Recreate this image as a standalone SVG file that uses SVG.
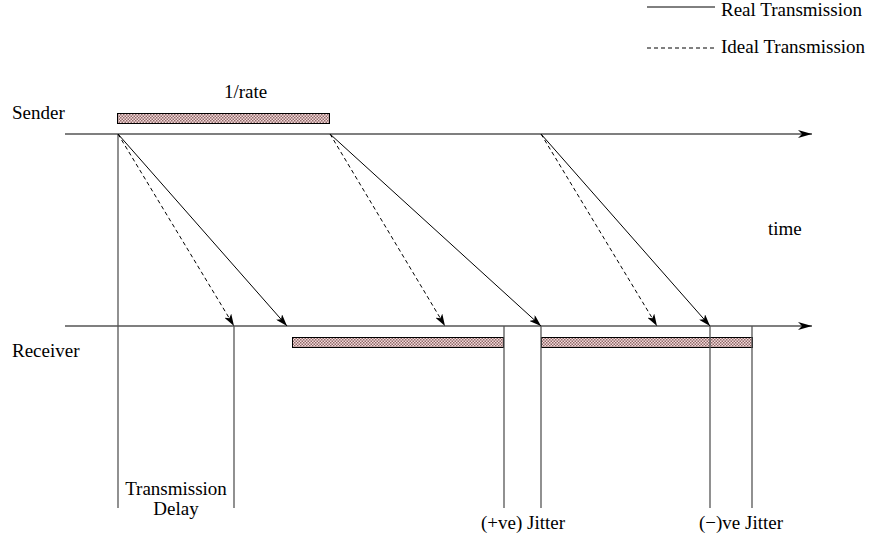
<svg xmlns="http://www.w3.org/2000/svg" width="869" height="541" viewBox="0 0 869 541">
  <defs>
    <pattern id="hatch" width="3" height="3" patternUnits="userSpaceOnUse">
      <rect width="3" height="3" fill="#f6dada"/>
      <rect width="1.5" height="1.5" fill="#8e6a6a"/>
      <rect x="1.5" y="1.5" width="1.5" height="1.5" fill="#8e6a6a"/>
    </pattern>
    <marker id="ah" viewBox="0 0 12 8" refX="12" refY="4" markerWidth="12" markerHeight="8" markerUnits="userSpaceOnUse" orient="auto">
      <path d="M0,0 L12,4 L0,8 L3,4 z" fill="#000"/>
    </marker>
    <marker id="axh" viewBox="0 0 14 8" refX="14" refY="4" markerWidth="14" markerHeight="8" markerUnits="userSpaceOnUse" orient="auto">
      <path d="M0,0 L14,4 L0,8 L4,4 z" fill="#000"/>
    </marker>
  </defs>
  <style>
    text { font-family: "Liberation Serif", "Times New Roman", serif; font-size: 19px; fill: #000; }
    .axis { stroke: #555; stroke-width: 1.4; fill: none; }
    .vl { stroke: #555; stroke-width: 1.3; fill: none; }
    .real { stroke: #000; stroke-width: 1; fill: none; }
    .ideal { stroke: #000; stroke-width: 1; fill: none; stroke-dasharray: 4 3; }
    .bar { fill: url(#hatch); stroke: #000; stroke-width: 1; }
  </style>
  <rect width="869" height="541" fill="#fff"/>

  <g id="legend">
    <line x1="647" y1="7" x2="715" y2="7" class="real"/>
    <text x="721" y="16">Real Transmission</text>
    <line x1="647" y1="48" x2="715" y2="48" class="ideal"/>
    <text x="721" y="53">Ideal Transmission</text>
  </g>

  <g id="sender">
    <text x="12" y="119">Sender</text>
    <line x1="65" y1="134" x2="812" y2="134" class="axis" marker-end="url(#axh)"/>
    <rect x="117.5" y="113.5" width="212" height="10" class="bar"/>
    <text x="224" y="98">1/rate</text>
  </g>

  <g id="receiver">
    <text x="12" y="357">Receiver</text>
    <line x1="65" y1="326" x2="812" y2="326" class="axis" marker-end="url(#axh)"/>
    <rect x="292.5" y="337.5" width="211" height="10" class="bar"/>
    <rect x="541.5" y="337.5" width="211" height="10" class="bar"/>
  </g>

  <g id="time-label">
    <text x="768" y="235">time</text>
  </g>

  <g id="markers">
    <line x1="118" y1="134" x2="118" y2="508" class="vl"/>
    <line x1="234" y1="326" x2="234" y2="508" class="vl"/>
    <line x1="504" y1="326" x2="504" y2="508" class="vl"/>
    <line x1="541" y1="326" x2="541" y2="508" class="vl"/>
    <line x1="710" y1="326" x2="710" y2="508" class="vl"/>
    <line x1="752" y1="326" x2="752" y2="508" class="vl"/>
  </g>

  <g id="connectors">
    <line x1="118" y1="134" x2="287" y2="326" class="real" marker-end="url(#ah)"/>
    <line x1="118" y1="134" x2="234" y2="326" class="ideal" marker-end="url(#ah)"/>
    <line x1="330" y1="134" x2="541" y2="326" class="real" marker-end="url(#ah)"/>
    <line x1="330" y1="134" x2="445" y2="326" class="ideal" marker-end="url(#ah)"/>
    <line x1="541" y1="134" x2="710" y2="326" class="real" marker-end="url(#ah)"/>
    <line x1="541" y1="134" x2="657" y2="326" class="ideal" marker-end="url(#ah)"/>
  </g>

  <g id="labels">
    <text x="176" y="495" text-anchor="middle">Transmission</text>
    <text x="176" y="515" text-anchor="middle">Delay</text>
    <text x="481" y="529">(+ve) Jitter</text>
    <text x="699" y="529">(−)ve Jitter</text>
  </g>
</svg>
